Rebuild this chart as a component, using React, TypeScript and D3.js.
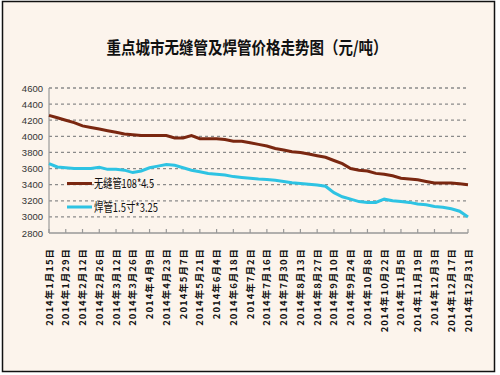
import * as d3 from 'd3'

const title = '重点城市无缝管及焊管价格走势图（元/吨）'

const dateLabels = [
  '1月15日', '1月29日', '2月12日', '2月26日', '3月12日', '3月26日', '4月9日',
  '4月23日', '5月7日', '5月21日', '6月4日', '6月18日', '7月2日', '7月16日',
  '7月30日', '8月13日', '8月27日', '9月10日', '9月24日', '10月8日', '10月22日',
  '11月5日', '11月19日', '12月3日', '12月17日', '12月31日',
].map((d) => '2014年' + d)

const yTicks = [2800, 3000, 3200, 3400, 3600, 3800, 4000, 4200, 4400, 4600]

const seriesNames = ['无缝管108*4.5', '焊管1.5寸*3.25']

// weekly readings, 1/15 .. 12/31
const seamless = [
  4260, 4230, 4200, 4170, 4130, 4110, 4090, 4070, 4050, 4030, 4020, 4010, 4010,
  4010, 4010, 3980, 3980, 4010, 3970, 3970, 3970, 3960, 3940, 3940, 3920, 3900,
  3880, 3850, 3830, 3810, 3800, 3780, 3760, 3740, 3700, 3660, 3600, 3580, 3570,
  3540, 3530, 3510, 3480, 3470, 3460, 3440, 3420, 3420, 3420, 3410, 3400,
]
const welded = [
  3660, 3620, 3610, 3600, 3600, 3600, 3615, 3590, 3590, 3580, 3550, 3570, 3610,
  3630, 3650, 3640, 3610, 3580, 3560, 3540, 3530, 3520, 3500, 3490, 3480, 3470,
  3465, 3455, 3440, 3425, 3415, 3405, 3395, 3380, 3300, 3250, 3220, 3190, 3180,
  3180, 3220, 3200, 3190, 3180, 3160, 3150, 3130, 3120, 3100, 3070, 3000,
]

const colors = ['#7a2710', '#2ec3e3']

export default function App() {
  const width = 500
  const height = 375
  const left = 49
  const right = 468
  const top = 88
  const bottom = 233

  const x = d3.scaleLinear([0, seamless.length - 1], [left, right])
  const xLabel = d3.scalePoint(dateLabels, [left, right])
  const y = d3.scaleLinear([2800, 4600], [bottom, top])
  const line = d3.line<number>((d, i) => x(i), (d) => y(d))

  return (
    <svg
      width={width}
      height={height}
      style={{ position: 'absolute', left: 0, top: 0 }}
      fontFamily="'Noto Sans CJK SC', sans-serif"
    >
      <rect width={width} height={height} fill="#ffffff" />
      <rect x={2.5} y={1.5} width={492} height={370} fill="#fcf4ec" stroke="#111" strokeWidth={1.5} />
      <text
        x={247}
        y={54}
        textAnchor="middle"
        fontSize={17}
        fontWeight="bold"
        fill="#111"
        textLength={281}
        lengthAdjust="spacingAndGlyphs"
      >
        {title}
      </text>

      {yTicks.slice(1).map((t) => (
        <line
          key={t}
          x1={left}
          x2={right}
          y1={y(t)}
          y2={y(t)}
          stroke="#8a8a8a"
          strokeWidth={1.3}
          strokeDasharray="3,3"
        />
      ))}
      {yTicks.map((t) => (
        <text
          key={t}
          x={43}
          y={y(t) + 3.5}
          textAnchor="end"
          fontSize={9.5}
          fontFamily="'Liberation Sans', Arial, sans-serif"
          fill="#333"
        >
          {t}
        </text>
      ))}
      <line x1={left} x2={left} y1={top} y2={bottom} stroke="#999" strokeWidth={1.2} />
      <line x1={left} x2={right} y1={bottom} y2={bottom} stroke="#999" strokeWidth={1.5} />
      {dateLabels.map((d) => (
        <line key={d} x1={xLabel(d)} x2={xLabel(d)} y1={bottom} y2={bottom - 4} stroke="#999" strokeWidth={1.2} />
      ))}

      <path d={line(seamless) || undefined} fill="none" stroke={colors[0]} strokeWidth={3} />
      <path d={line(welded) || undefined} fill="none" stroke={colors[1]} strokeWidth={3} />

      {seriesNames.map((name, i) => (
        <g key={name} transform={`translate(67,${183.5 + i * 23.5})`}>
          <line x1={0} x2={25} y1={0} y2={0} stroke={colors[i]} strokeWidth={3} />
          <text
            x={27}
            y={4.5}
            fontSize={12}
            fill="#111"
            textLength={i === 0 ? 60 : 64}
            lengthAdjust="spacingAndGlyphs"
          >
            {name}
          </text>
        </g>
      ))}

      {dateLabels.map((d) => (
        <text
          key={d}
          transform={`translate(${(xLabel(d) || 0) + 3.5},248) rotate(-90)`}
          textAnchor="end"
          fontSize={9.5}
          fontWeight="bold"
          letterSpacing={1}
          fill="#111"
        >
          {d}
        </text>
      ))}
    </svg>
  )
}
